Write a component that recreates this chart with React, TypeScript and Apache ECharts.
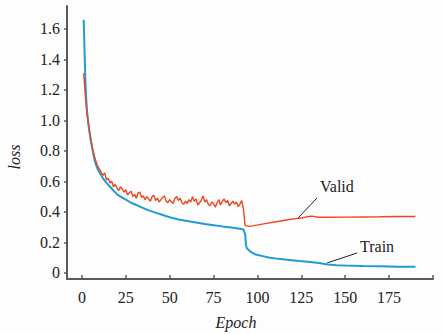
import React, { useEffect, useRef } from "react";
import * as echarts from "echarts";

const trainEpochs = [1, 1.5, 2, 2.5, 3, 4, 5, 6, 7, 8, 9, 10, 12, 14, 16, 18, 20, 22, 25, 28, 31, 34, 38, 42, 46, 50, 55, 60, 65, 70, 75, 80, 85, 90, 92, 93, 93.5, 94, 96, 99, 103, 107, 112, 118, 124, 130, 135, 140, 145, 150, 160, 170, 180, 190];
const trainLoss = [1.66, 1.45, 1.25, 1.13, 1.05, 0.95, 0.87, 0.81, 0.75, 0.71, 0.68, 0.66, 0.62, 0.59, 0.565, 0.54, 0.515, 0.5, 0.48, 0.46, 0.445, 0.43, 0.41, 0.395, 0.38, 0.365, 0.35, 0.34, 0.33, 0.32, 0.313, 0.305, 0.298, 0.29, 0.285, 0.25, 0.18, 0.16, 0.14, 0.12, 0.11, 0.1, 0.092, 0.085, 0.078, 0.072, 0.065, 0.055, 0.05, 0.048, 0.045, 0.043, 0.041, 0.04];

const validEpochs = [1, 2, 3, 4, 5, 6, 7, 8, 9, 10, 11, 12, 13, 14, 15, 16, 17, 18, 19, 20, 21, 22, 23, 24, 25, 26, 27, 28, 29, 30, 31, 32, 33, 34, 35, 36, 37, 38, 39, 40, 41, 42, 43, 44, 45, 46, 47, 48, 49, 50, 51, 52, 53, 54, 55, 56, 57, 58, 59, 60, 61, 62, 63, 64, 65, 66, 67, 68, 69, 70, 71, 72, 73, 74, 75, 76, 77, 78, 79, 80, 81, 82, 83, 84, 85, 86, 87, 88, 89, 90, 91, 92, 93, 95, 98, 102, 106, 110, 114, 118, 122, 126, 129, 131, 133, 135, 140, 150, 160, 170, 180, 190];
const validLoss = [
  1.31, 1.15, 1.03, 0.95, 0.88, 0.82, 0.77, 0.73, 0.7,
  0.68, 0.66, 0.64, 0.655, 0.61, 0.62, 0.59, 0.6, 0.565, 0.58,
  0.555, 0.54, 0.565, 0.55, 0.53, 0.545, 0.51, 0.525, 0.535, 0.5,
  0.515, 0.49, 0.525, 0.53, 0.495, 0.505, 0.48, 0.5, 0.485, 0.47,
  0.5, 0.51, 0.475, 0.49, 0.465, 0.48, 0.495, 0.505, 0.47, 0.46,
  0.48, 0.465, 0.455, 0.49, 0.5, 0.475, 0.49, 0.46, 0.45, 0.47,
  0.455, 0.48, 0.465, 0.5, 0.47, 0.485, 0.445, 0.46, 0.475, 0.505,
  0.465, 0.48, 0.45, 0.44, 0.465, 0.455, 0.43, 0.46, 0.48, 0.445,
  0.47, 0.485, 0.46, 0.475, 0.44, 0.455, 0.47, 0.45, 0.465, 0.435,
  0.45, 0.475, 0.42,
  0.31, 0.305, 0.31, 0.318, 0.326, 0.334, 0.342, 0.35, 0.356, 0.362, 0.37, 0.372, 0.368, 0.365, 0.365, 0.366, 0.367, 0.368, 0.37, 0.37,
];

const xTicks = [0, 25, 50, 75, 100, 125, 150, 175];
const yTicks = [0, 0.2, 0.4, 0.6, 0.8, 1.0, 1.2, 1.4, 1.6];

const FONT = "Liberation Serif, Times New Roman, DejaVu Serif, serif";

export default function App() {
  const ref = useRef<HTMLDivElement>(null);
  useEffect(() => {
    if (!ref.current) return;
    const chart = echarts.init(ref.current, null, { renderer: "svg" });
    const axisLine = { lineStyle: { color: "#5a5a5a", width: 2 } };
    chart.setOption({
      animation: false,
      backgroundColor: "#fdfdfd",
      textStyle: { fontFamily: FONT },
      grid: { left: 67, right: 10, top: 6, bottom: 55 },
      xAxis: {
        type: "value",
        min: -8.5,
        max: 200,
        splitLine: { show: false },
        axisLine: { ...axisLine, onZero: false },
        axisTick: { show: true, inside: true, length: 4, customValues: [...xTicks, 200], lineStyle: { color: "#5a5a5a", width: 1.5 } },
        axisLabel: { customValues: xTicks, margin: 10, fontFamily: FONT, fontSize: 16, color: "#222" },
      },
      yAxis: {
        type: "value",
        min: -0.04,
        max: 1.75,
        splitLine: { show: false },
        axisLine: { ...axisLine, onZero: false },
        axisTick: { show: true, inside: false, length: 3, customValues: yTicks, lineStyle: { color: "#5a5a5a", width: 1.5 } },
        axisLabel: {
          customValues: yTicks,
          margin: 7,
          fontFamily: FONT,
          fontSize: 16,
          color: "#222",
          formatter: (v: number) => (v === 0 ? "0" : v.toFixed(1)),
        },
      },
      series: [
        {
          name: "Train",
          type: "line",
          showSymbol: false,
          data: trainEpochs.map((e, i) => [e, trainLoss[i]]),
          lineStyle: { color: "#1f9bd7", width: 2 },
          z: 2,
        },
        {
          name: "Valid",
          type: "line",
          showSymbol: false,
          data: validEpochs.map((e, i) => [e, validLoss[i]]),
          lineStyle: { color: "#f0451f", width: 1.4 },
          z: 3,
        },
      ],
      graphic: [
        {
          type: "text",
          x: 14,
          y: 157,
          rotation: Math.PI / 2,
          style: { text: "loss", fontFamily: FONT, fontStyle: "italic", fontSize: 16, fill: "#222", align: "center", verticalAlign: "middle" },
        },
        {
          type: "text",
          x: 236,
          y: 322,
          style: { text: "Epoch", fontFamily: FONT, fontStyle: "italic", fontSize: 16, fill: "#222", align: "center", verticalAlign: "middle" },
        },
        {
          type: "text",
          x: 320,
          y: 186,
          style: { text: "Valid", fontFamily: FONT, fontSize: 16, fill: "#222", align: "left", verticalAlign: "middle" },
        },
        {
          type: "text",
          x: 360,
          y: 246,
          style: { text: "Train", fontFamily: FONT, fontSize: 16, fill: "#222", align: "left", verticalAlign: "middle" },
        },
        {
          type: "line",
          shape: { x1: 317, y1: 198, x2: 298, y2: 218 },
          style: { stroke: "#222", lineWidth: 1 },
        },
        {
          type: "line",
          shape: { x1: 357, y1: 253, x2: 327, y2: 263 },
          style: { stroke: "#222", lineWidth: 1 },
        },
      ],
    });
    return () => chart.dispose();
  }, []);
  return <div ref={ref} style={{ width: 443, height: 334, position: "absolute", left: 0, top: 0 }} />;
}
